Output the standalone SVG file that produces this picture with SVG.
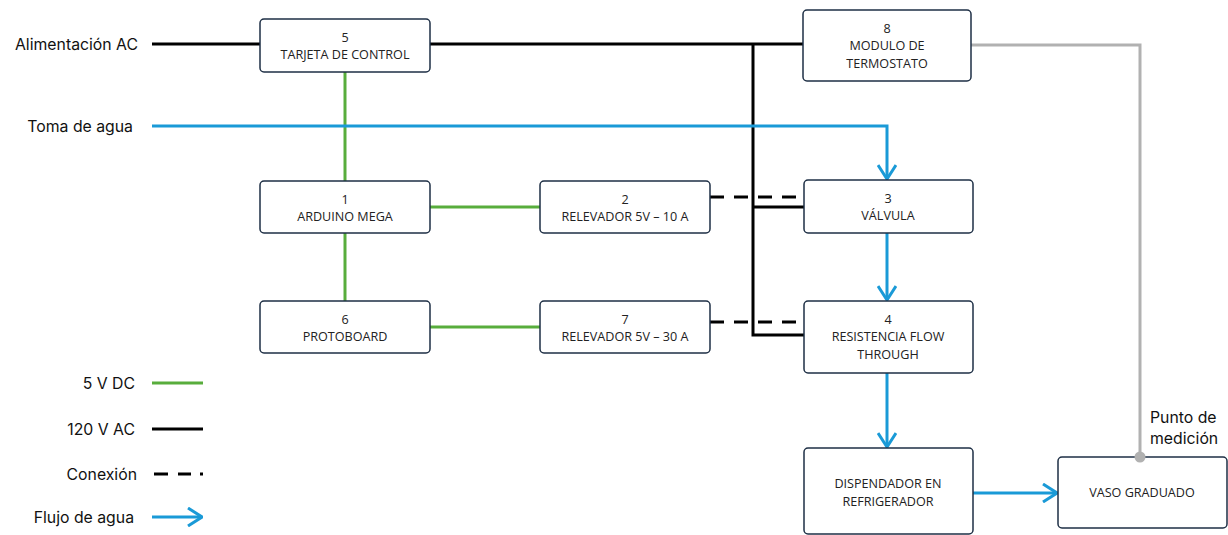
<svg xmlns="http://www.w3.org/2000/svg" width="1228" height="535" viewBox="0 0 1228 535">
  <style>
    .box { fill: #ffffff; stroke: #1e2f45; stroke-width: 1.5; }
    .lbl { font-family: "Open Sans", "Noto Sans", sans-serif; font-size: 12.6px; fill: #222; text-anchor: middle; }
    .side { font-family: "Inter", "Noto Sans", sans-serif; font-size: 15.8px; fill: #111; }
    .dc { stroke: #58ad3c; stroke-width: 3; fill: none; }
    .ac { stroke: #000; stroke-width: 3; fill: none; }
    .link { stroke: #000; stroke-width: 3; fill: none; stroke-dasharray: 14 10; }
    .water { stroke: #1a9ad7; stroke-width: 3; fill: none; }
    .probe { stroke: #b1b1b1; stroke-width: 3; fill: none; }
  </style>
  <defs>
    <marker id="open-arrow" viewBox="0 0 16 20" refX="15" refY="10" markerWidth="16" markerHeight="20" markerUnits="userSpaceOnUse" orient="auto">
      <path d="M1,1 L15,10 L1,19" fill="none" stroke="#1a9ad7" stroke-width="3"/>
    </marker>
  </defs>
  <rect width="1228" height="535" fill="#ffffff"/>

  <g id="connectors">
    <!-- 120 V AC supply -->
    <path class="ac" d="M152,44 H260"/>
    <path class="ac" d="M430,44 H803"/>
    <path class="ac" d="M753,44 V335 H804"/>
    <path class="ac" d="M753,207 H804"/>
    <!-- 5 V DC -->
    <path class="dc" d="M345,72 V181"/>
    <path class="dc" d="M345,233 V301"/>
    <path class="dc" d="M430,207 H540"/>
    <path class="dc" d="M430,327 H540"/>
    <!-- relay to load -->
    <path class="link" d="M710,197 H804"/>
    <path class="link" d="M710,322 H804"/>
    <!-- water path -->
    <path class="water" d="M152,126 H887 V179" marker-end="url(#open-arrow)"/>
    <path class="water" d="M887,233 V300" marker-end="url(#open-arrow)"/>
    <path class="water" d="M887,373 V447" marker-end="url(#open-arrow)"/>
    <path class="water" d="M973,493 H1057" marker-end="url(#open-arrow)"/>
    <!-- thermostat probe -->
    <path class="probe" d="M971,45 H1140 V457"/>
  </g>

  <g id="side-labels">
    <text class="side" x="138" y="50" text-anchor="end">Alimentación AC</text>
    <text class="side" x="133" y="132" text-anchor="end">Toma de agua</text>
    <text class="side" x="1150" y="423">Punto de</text>
    <text class="side" x="1150" y="444">medición</text>
  </g>

  <g id="node-5">
    <rect class="box" x="260" y="19" width="170" height="53" rx="4"/>
    <text class="lbl" x="345" y="42">5</text>
    <text class="lbl" x="345" y="59">TARJETA DE CONTROL</text>
  </g>
  <g id="node-8">
    <rect class="box" x="803" y="10" width="168" height="71" rx="4"/>
    <text class="lbl" x="887" y="33">8</text>
    <text class="lbl" x="887" y="50">MODULO DE</text>
    <text class="lbl" x="887" y="68">TERMOSTATO</text>
  </g>
  <g id="node-1">
    <rect class="box" x="260" y="181" width="170" height="52" rx="4"/>
    <text class="lbl" x="345" y="204">1</text>
    <text class="lbl" x="345" y="221">ARDUINO MEGA</text>
  </g>
  <g id="node-2">
    <rect class="box" x="540" y="181" width="170" height="52" rx="4"/>
    <text class="lbl" x="625" y="204">2</text>
    <text class="lbl" x="625" y="221">RELEVADOR 5V – 10 A</text>
  </g>
  <g id="node-3">
    <rect class="box" x="804" y="180" width="169" height="53" rx="4"/>
    <text class="lbl" x="888" y="203">3</text>
    <text class="lbl" x="888" y="220">VÁLVULA</text>
  </g>
  <g id="node-6">
    <rect class="box" x="260" y="301" width="170" height="52" rx="4"/>
    <text class="lbl" x="345" y="324">6</text>
    <text class="lbl" x="345" y="341">PROTOBOARD</text>
  </g>
  <g id="node-7">
    <rect class="box" x="540" y="301" width="170" height="52" rx="4"/>
    <text class="lbl" x="625" y="324">7</text>
    <text class="lbl" x="625" y="341">RELEVADOR 5V – 30 A</text>
  </g>
  <g id="node-4">
    <rect class="box" x="804" y="301" width="169" height="72" rx="4"/>
    <text class="lbl" x="888" y="324">4</text>
    <text class="lbl" x="888" y="341">RESISTENCIA FLOW</text>
    <text class="lbl" x="888" y="359">THROUGH</text>
  </g>
  <g id="node-dispensador">
    <rect class="box" x="804" y="448" width="169" height="86" rx="4"/>
    <text class="lbl" x="888" y="488">DISPENDADOR EN</text>
    <text class="lbl" x="888" y="506">REFRIGERADOR</text>
  </g>
  <g id="node-vaso">
    <rect class="box" x="1058" y="457" width="169" height="71" rx="4"/>
    <text class="lbl" x="1142" y="497">VASO GRADUADO</text>
  </g>

  <!-- measurement point marker sits on top of the cup outline -->
  <circle id="probe-point" cx="1140" cy="457" r="5.5" fill="#b1b1b1"/>

  <g id="legend">
    <text class="side" x="135" y="389" text-anchor="end">5 V DC</text>
    <path class="dc" d="M152,383 H203"/>
    <text class="side" x="135" y="435" text-anchor="end">120 V AC</text>
    <path class="ac" d="M152,429 H203"/>
    <text class="side" x="137" y="480" text-anchor="end">Conexión</text>
    <path class="ac" d="M154,474 H168 M178,474 H191 M200,474 H203"/>
    <text class="side" x="134" y="523" text-anchor="end">Flujo de agua</text>
    <path class="water" d="M152,517 H202" marker-end="url(#open-arrow)"/>
  </g>
</svg>
